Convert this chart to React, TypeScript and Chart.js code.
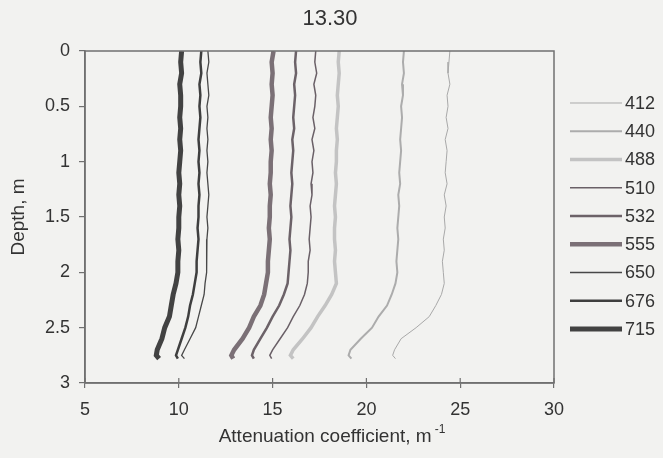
import React, { useEffect, useRef } from "react";
import { Chart, registerables } from "chart.js";

Chart.register(...registerables);

const titleText = "13.30";
const xTitle = "Attenuation coefficient, m";
const xTitleSup = "-1";
const yTitle = "Depth, m";
const xTicks = [5, 10, 15, 20, 25, 30];
const yTicks = [0, 0.5, 1, 1.5, 2, 2.5, 3];

const depths = [0, 0.1, 0.2, 0.3, 0.4, 0.5, 0.6, 0.7, 0.8, 0.9, 1.0, 1.1, 1.2, 1.3, 1.4, 1.5, 1.6, 1.7, 1.8, 1.9, 2.0, 2.1, 2.2, 2.3, 2.4, 2.5, 2.6, 2.7, 2.75, 2.78];

const wavelengths = ["412", "440", "488", "510", "532", "555", "650", "676", "715"];

const att412 = [24.45, 24.4, 24.35, 24.45, 24.3, 24.35, 24.25, 24.35, 24.2, 24.3, 24.25, 24.2, 24.3, 24.15, 24.25, 24.15, 24.2, 24.1, 24.15, 24.05, 24.1, 24.15, 24.0, 23.7, 23.35, 22.65, 21.85, 21.5, 21.4, 21.55];
const att440 = [22.0, 21.95, 22.0, 21.9, 21.95, 21.85, 21.9, 21.85, 21.8, 21.85, 21.8, 21.75, 21.8, 21.7, 21.75, 21.7, 21.65, 21.7, 21.65, 21.6, 21.65, 21.55, 21.35, 21.1, 20.65, 20.3, 19.7, 19.15, 19.05, 19.2];
const att488 = [18.55, 18.5, 18.55, 18.5, 18.45, 18.5, 18.45, 18.4, 18.45, 18.4, 18.4, 18.35, 18.4, 18.35, 18.3, 18.35, 18.3, 18.3, 18.35, 18.3, 18.35, 18.4, 18.15, 17.8, 17.4, 17.05, 16.6, 16.1, 15.95, 16.1];
const att510 = [17.3, 17.25, 17.35, 17.2, 17.3, 17.25, 17.15, 17.25, 17.1, 17.2, 17.1, 17.15, 17.05, 17.1, 17.0, 17.05, 17.0, 16.95, 17.0, 16.9, 16.9, 16.85, 16.7, 16.45, 16.1, 15.8, 15.4, 15.0, 14.85, 14.95];
const att532 = [16.25, 16.2, 16.25, 16.15, 16.2, 16.15, 16.1, 16.15, 16.05, 16.1, 16.05, 16.0, 16.05, 16.0, 15.95, 16.0, 15.95, 15.9, 15.95, 15.9, 15.85, 15.8, 15.6, 15.35, 15.0, 14.7, 14.35, 14.0, 13.9, 14.0];
const att555 = [15.05, 14.95, 15.0, 14.95, 15.0, 14.95, 14.9, 14.95, 14.9, 14.95, 14.9, 14.9, 14.85, 14.9, 14.85, 14.85, 14.8, 14.85, 14.8, 14.75, 14.75, 14.65, 14.55, 14.35, 14.0, 13.75, 13.4, 12.95, 12.8, 12.9];
const att650 = [11.55, 11.6, 11.5, 11.55, 11.6, 11.5, 11.55, 11.5, 11.55, 11.5, 11.55, 11.5, 11.55, 11.6, 11.55, 11.5, 11.55, 11.5, 11.5, 11.45, 11.5, 11.4, 11.35, 11.2, 11.05, 10.9, 10.6, 10.3, 10.15, 10.3];
const att676 = [11.2, 11.15, 11.2, 11.1, 11.15, 11.1, 11.15, 11.1, 11.05, 11.1, 11.05, 11.1, 11.05, 11.1, 11.05, 11.05, 11.0, 11.05, 11.0, 10.95, 10.95, 10.85, 10.75, 10.6, 10.5, 10.35, 10.15, 9.95, 9.85, 9.95];
const att715 = [10.15, 10.1, 10.15, 10.05, 10.1, 10.1, 10.05, 10.1, 10.05, 10.1, 10.05, 10.0, 10.05, 10.0, 10.05, 10.0, 10.0, 9.95, 10.0, 9.95, 9.95, 9.85, 9.7, 9.6, 9.5, 9.25, 9.1, 8.85, 8.8, 8.95];

const seriesValues = [att412, att440, att488, att510, att532, att555, att650, att676, att715];

const lineColors = ["#a9a9a9", "#acacac", "#c3c3c3", "#6a6067", "#6c6268", "#7b7076", "#484848", "#3f3f3f", "#424242"];
const lineWidths = [1, 2, 3.5, 1.5, 2.5, 4.5, 1.3, 2.5, 5];

const FONT = '"Liberation Sans", Arial, sans-serif';
const TEXT = "#333333";
const AXIS = "#707070";

const decorPlugin = {
  id: "decor",
  beforeDraw(chart: any) {
    const ctx = chart.ctx;
    ctx.save();
    ctx.fillStyle = "#f2f2f0";
    ctx.fillRect(0, 0, chart.width, chart.height);
    ctx.restore();
  },
  afterDraw(chart: any) {
    const ctx = chart.ctx;
    const a = chart.chartArea;
    const xs = chart.scales.x;
    ctx.save();
    ctx.strokeStyle = AXIS;
    ctx.lineWidth = 1.5;
    ctx.strokeRect(a.left, a.top, a.right - a.left, a.bottom - a.top);
    ctx.lineWidth = 1.2;
    xTicks.forEach((v) => {
      const px = xs.getPixelForValue(v);
      ctx.beginPath();
      ctx.moveTo(px, a.bottom);
      ctx.lineTo(px, a.bottom - 5);
      ctx.stroke();
    });
    ctx.fillStyle = TEXT;
    ctx.textAlign = "center";
    ctx.textBaseline = "middle";
    ctx.font = `22px ${FONT}`;
    ctx.fillText(titleText, 330, 19);
    ctx.font = `19px ${FONT}`;
    const mainW = ctx.measureText(xTitle).width;
    ctx.font = `12px ${FONT}`;
    const supW = ctx.measureText(xTitleSup).width;
    const total = mainW + 3 + supW;
    const startX = 332 - total / 2;
    ctx.textAlign = "left";
    ctx.font = `19px ${FONT}`;
    ctx.fillText(xTitle, startX, 437);
    ctx.font = `12px ${FONT}`;
    ctx.fillText(xTitleSup, startX + mainW + 3, 430);
    ctx.save();
    ctx.translate(19, 217);
    ctx.rotate(-Math.PI / 2);
    ctx.textAlign = "center";
    ctx.font = `19px ${FONT}`;
    ctx.fillText(yTitle, 0, 0);
    ctx.restore();
    wavelengths.forEach((w, i) => {
      const y = 103 + i * 28.25;
      ctx.strokeStyle = lineColors[i];
      ctx.lineWidth = lineWidths[i];
      ctx.beginPath();
      ctx.moveTo(570, y);
      ctx.lineTo(622, y);
      ctx.stroke();
      ctx.fillStyle = TEXT;
      ctx.font = `18px ${FONT}`;
      ctx.textAlign = "left";
      ctx.textBaseline = "middle";
      ctx.fillText(w, 625, y + 1);
    });
    ctx.restore();
  },
};

export default function App() {
  const ref = useRef<HTMLCanvasElement | null>(null);

  useEffect(() => {
    if (!ref.current) return;
    const datasets = wavelengths.map((w, i) => ({
      label: w,
      data: depths.map((d, k) => ({ x: seriesValues[i][k], y: d })),
      borderColor: lineColors[i],
      backgroundColor: lineColors[i],
      borderWidth: lineWidths[i],
      pointRadius: 0,
      showLine: true,
      fill: false,
      tension: 0,
    }));
    const chart = new Chart(ref.current, {
      type: "scatter",
      data: { datasets },
      plugins: [decorPlugin],
      options: {
        animation: false,
        responsive: false,
        maintainAspectRatio: false,
        layout: { padding: { top: 51, right: 109, bottom: 0, left: 0 } },
        plugins: {
          legend: { display: false },
          title: { display: false },
          tooltip: { enabled: false },
        },
        scales: {
          x: {
            type: "linear",
            min: 5,
            max: 30,
            afterFit: (s: any) => {
              s.height = 75;
            },
            afterBuildTicks: (s: any) => {
              s.ticks = xTicks.map((v) => ({ value: v }));
            },
            ticks: {
              color: TEXT,
              font: { family: FONT, size: 18 },
              padding: 11,
              maxRotation: 0,
              callback: (v: any) => String(v),
            },
            grid: { display: true, drawOnChartArea: false, drawTicks: true, tickLength: 5, color: AXIS, lineWidth: 1.2 },
            border: { display: true, color: AXIS, width: 1.5 },
          },
          y: {
            type: "linear",
            reverse: true,
            min: 0,
            max: 3,
            afterFit: (s: any) => {
              s.width = 85;
            },
            afterBuildTicks: (s: any) => {
              s.ticks = yTicks.map((v) => ({ value: v }));
            },
            ticks: {
              color: TEXT,
              font: { family: FONT, size: 18 },
              padding: 9,
              callback: (v: any) => String(v),
            },
            grid: { display: true, drawOnChartArea: false, drawTicks: true, tickLength: 6, color: AXIS, lineWidth: 1.2 },
            border: { display: true, color: AXIS, width: 1.5 },
          },
        },
      },
    });
    return () => chart.destroy();
  }, []);

  return (
    <div style={{ position: "fixed", left: 0, top: 0, width: 663, height: 458, background: "#f2f2f0" }}>
      <canvas ref={ref} width={663} height={458} style={{ display: "block", width: 663, height: 458 }} />
    </div>
  );
}
